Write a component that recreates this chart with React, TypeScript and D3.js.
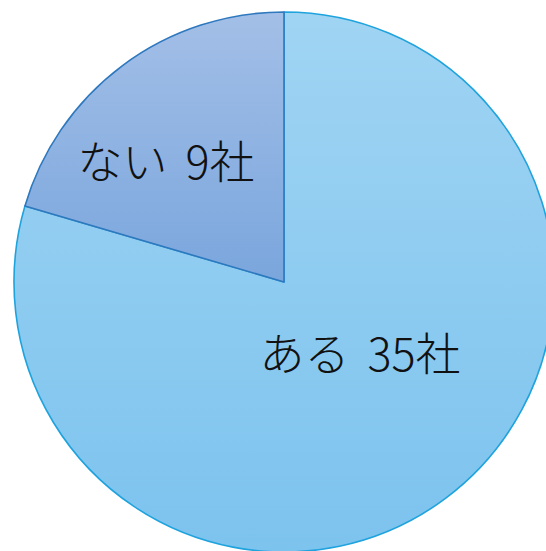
import React from "react";
import * as d3 from "d3";

const categories = ["ある", "ない"];
const values = [35, 9];
const labels = ["ある 35社", "ない 9社"];

const W = 546;
const H = 551;
const CX = 284;
const CY = 282;
const R = 270;

const fillTop = ["#A0D4F3", "#A3BFE7"];
const fillBottom = ["#7CC3EE", "#7AA6DD"];
const strokes = ["#1FA3DD", "#2E78BE"];
const labelPos = [
  { x: 360, y: 371 },
  { x: 166, y: 179 },
];

export default function App() {
  const pie = d3
    .pie<number>()
    .sort(null)
    .startAngle(0)
    .endAngle(2 * Math.PI)
    .value((d) => d);
  const arcs = pie(values);
  const arc = d3.arc<d3.PieArcDatum<number>>().innerRadius(0).outerRadius(R);

  return (
    <svg
      width={W}
      height={H}
      style={{ position: "absolute", left: 0, top: 0, background: "#fff" }}
    >
      <defs>
        {arcs.map((a, i) => {
          const pts: number[] = [0];
          const n = 200;
          for (let k = 0; k <= n; k++) {
            const t = a.startAngle + ((a.endAngle - a.startAngle) * k) / n;
            pts.push(-Math.cos(t) * R);
          }
          return (
            <linearGradient
              key={i}
              id={`g${i}`}
              gradientUnits="userSpaceOnUse"
              x1={0}
              y1={d3.min(pts)}
              x2={0}
              y2={d3.max(pts)}
            >
              <stop offset="0%" stopColor={fillTop[i]} />
              <stop offset="100%" stopColor={fillBottom[i]} />
            </linearGradient>
          );
        })}
      </defs>
      <g transform={`translate(${CX},${CY})`}>
        {arcs.map((a, i) => (
          <path
            key={categories[i]}
            d={arc(a) || ""}
            fill={`url(#g${i})`}
            stroke={strokes[i]}
            strokeWidth={1.6}
            strokeLinejoin="round"
          />
        ))}
      </g>
      {labels.map((t, i) => (
        <text
          key={t}
          x={labelPos[i].x}
          y={labelPos[i].y}
          textAnchor="middle"
          fontFamily="'Noto Sans CJK JP', sans-serif"
          fontWeight={300}
          fontSize={45}
          wordSpacing={8}
          fill="#111"
        >
          {t}
        </text>
      ))}
    </svg>
  );
}
